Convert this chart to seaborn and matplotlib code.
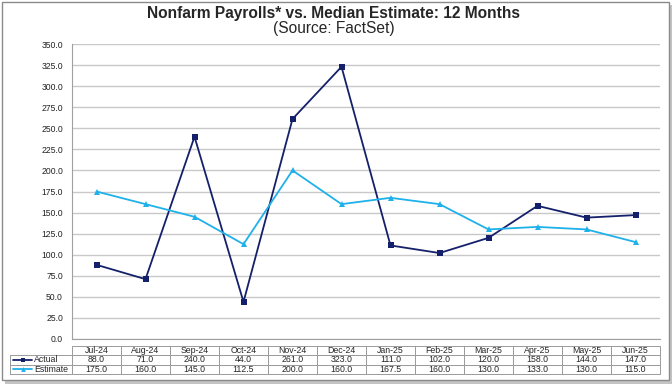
import matplotlib
matplotlib.use("Agg")
import matplotlib.pyplot as plt
import pandas as pd
import seaborn as sns
from matplotlib.lines import Line2D
from matplotlib.patches import Rectangle

months = ["Jul-24", "Aug-24", "Sep-24", "Oct-24", "Nov-24", "Dec-24",
          "Jan-25", "Feb-25", "Mar-25", "Apr-25", "May-25", "Jun-25"]
actual = [88.0, 71.0, 240.0, 44.0, 261.0, 323.0, 111.0, 102.0, 120.0, 158.0, 144.0, 147.0]
estimate = [175.0, 160.0, 145.0, 112.5, 200.0, 160.0, 167.5, 160.0, 130.0, 133.0, 130.0, 115.0]
y_ticks = [0, 25, 50, 75, 100, 125, 150, 175, 200, 225, 250, 275, 300, 325, 350]

NAVY = "#14206a"
CYAN = "#1eb1ea"

sns.set_style("white")
plt.rcParams["font.family"] = ["Liberation Sans", "DejaVu Sans"]

df = pd.DataFrame({
    "month": months * 2,
    "value": actual + estimate,
    "series": ["Actual"] * len(months) + ["Estimate"] * len(months),
})

W, H = 672, 384
fig = plt.figure(figsize=(W / 100, H / 100), dpi=100)

# frame with a soft shadow (drawn first, behind everything)
fig.add_artist(Rectangle((5 / W, 0), 1 - 5 / W, 1 - 5 / H, transform=fig.transFigure,
                         facecolor="#c4c4c4", edgecolor="none", zorder=-2))
fig.add_artist(Rectangle((1.5 / W, 4 / H), 1 - 5 / W, 1 - 5.5 / H, transform=fig.transFigure,
                         facecolor="white", edgecolor="#8a8a8a", linewidth=1, zorder=-1))

# plot area in pixels: x 72..660, y 44..339
px_left, px_right, px_top, px_bottom = 72, 660, 44, 339
ax_w = px_right - px_left
ax_h = px_bottom - px_top
ax = fig.add_axes([px_left / W, 1 - px_bottom / H, ax_w / W, ax_h / H])
ax.patch.set_alpha(0)

sns.lineplot(data=df, x="month", y="value", hue="series", style="series",
             palette={"Actual": NAVY, "Estimate": CYAN},
             markers={"Actual": "s", "Estimate": "^"}, dashes=False,
             markersize=4.5, markeredgewidth=0, linewidth=1.3,
             sort=False, legend=False, ax=ax, zorder=3)

ax.set_xlim(-0.5, len(months) - 0.5)
ax.set_ylim(0, 350)
ax.set_yticks(y_ticks)
ax.set_yticklabels([f"{v:.1f}" for v in y_ticks], fontsize=6.2, color="#222222")
ax.set_xticks([])
ax.set_xlabel("")
ax.set_ylabel("")
ax.yaxis.grid(True, color="#c8c8c8", linewidth=1)
ax.set_axisbelow(True)
ax.tick_params(axis="y", length=0, pad=6.5)
for side in ["top", "right"]:
    ax.spines[side].set_visible(False)
ax.spines["left"].set_color("#a0a0a0")
ax.spines["bottom"].set_color("#a0a0a0")

# data table under the plot: y 346..374, label column from x=10
tbl_top, tbl_bottom, lbl_left = 346, 374, 10
label_w = px_left - lbl_left
col_w = ax_w / len(months)
cell_text = [[""] + months,
             [""] + [f"{v:.1f}" for v in actual],
             [""] + [f"{v:.1f}" for v in estimate]]
widths = [label_w / (label_w + ax_w)] + [col_w / (label_w + ax_w)] * len(months)
tbl = ax.table(cellText=cell_text, colWidths=widths, cellLoc="center",
               bbox=[-label_w / ax_w, -(tbl_bottom - px_bottom) / ax_h,
                     (label_w + ax_w) / ax_w, (tbl_bottom - tbl_top) / ax_h])
tbl.auto_set_font_size(False)
tbl.set_fontsize(6.3)
for (r, c), cell in tbl.get_celld().items():
    cell.set_edgecolor("#9a9a9a")
    cell.set_linewidth(0.7)
    if r == 0 and c == 0:
        cell.visible_edges = ""

# row labels with legend keys
row_h = (tbl_bottom - tbl_top) / 3
for i, (name, color, marker) in enumerate([("Actual", NAVY, "s"), ("Estimate", CYAN, "^")]):
    y = 1 - (tbl_top + row_h * (i + 1.5)) / H
    fig.add_artist(Line2D([13 / W, 32 / W], [y, y], color=color, linewidth=1.3,
                          transform=fig.transFigure))
    fig.add_artist(Line2D([22.5 / W], [y], color=color, marker=marker,
                          markersize=3.5, markeredgewidth=0,
                          transform=fig.transFigure))
    fig.text(34 / W, y, name, ha="left", va="center", fontsize=6.3)

fig.text(0.497, 1 - 13.5 / H, "Nonfarm Payrolls* vs. Median Estimate: 12 Months",
         ha="center", va="center", fontsize=11.2, fontweight="bold")
fig.text(0.497, 1 - 28.5 / H, "(Source: FactSet)", ha="center", va="center", fontsize=11.2)

fig.savefig("out.png", dpi=100)
